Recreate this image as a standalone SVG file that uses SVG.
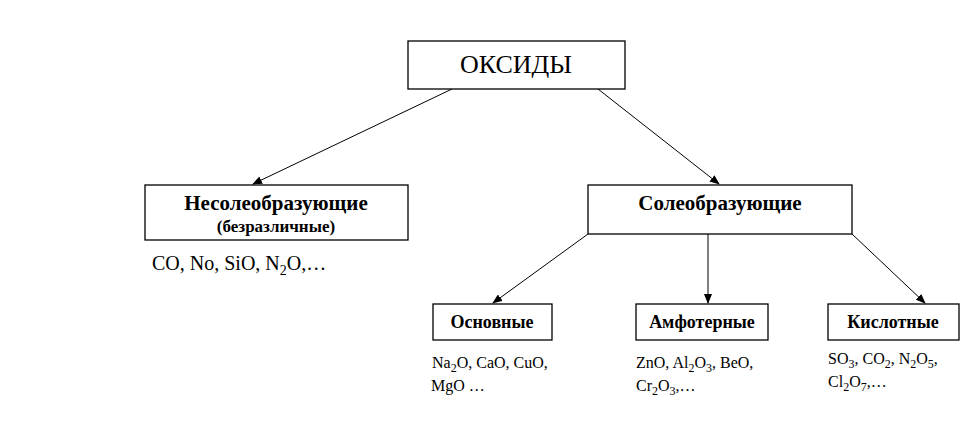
<svg xmlns="http://www.w3.org/2000/svg" width="961" height="426" viewBox="0 0 961 426">
<style>
rect{fill:#fff;stroke:#000;stroke-width:1.3}
.b{font-family:"Liberation Serif",serif;font-weight:bold;text-anchor:middle}
.f{font-family:"Liberation Serif",serif}
line{stroke:#000;stroke-width:1}
</style>
<defs><marker id="a" markerWidth="10" markerHeight="8" refX="9" refY="4" orient="auto" markerUnits="userSpaceOnUse"><path d="M0,0L10,4L0,8z"/></marker></defs>
<rect width="961" height="426" style="stroke:none"/>
<g id="connectors" marker-end="url(#a)">
<line x1="452" y1="89" x2="253" y2="184"/>
<line x1="598" y1="89" x2="719" y2="184"/>
<line x1="588" y1="234" x2="493" y2="303"/>
<line x1="708" y1="234" x2="708" y2="303"/>
<line x1="852" y1="234" x2="925" y2="303"/>
</g>
<g id="oxides"><rect x="408" y="41" width="217" height="48"/><text x="516" y="73" style="font-family:'Liberation Serif',serif;font-size:26px;text-anchor:middle">ОКСИДЫ</text></g>
<g id="nonsalt"><rect x="145" y="185" width="263" height="55"/><text class="b" x="276" y="210" font-size="21">Несолеобразующие</text><text class="b" x="276" y="232" font-size="17">(безразличные)</text>
<text class="f" x="152" y="270" font-size="20">CO, No, SiO, N<tspan dy="5" font-size="14">2</tspan><tspan dy="-5">O,…</tspan></text></g>
<g id="salt"><rect x="588" y="185" width="264" height="49"/><text class="b" x="720" y="210" font-size="21">Солеобразующие</text></g>
<g id="basic"><rect x="433" y="304" width="119" height="36"/><text class="b" x="492" y="328" font-size="18">Основные</text>
<text class="f" x="432" y="368" font-size="16">Na<tspan dy="4" font-size="12">2</tspan><tspan dy="-4">O, CaO, CuO,</tspan></text><text class="f" x="431" y="391" font-size="16">MgO …</text></g>
<g id="amph"><rect x="636" y="304" width="132" height="36"/><text class="b" x="702" y="328" font-size="18">Амфотерные</text>
<text class="f" x="636" y="368" font-size="16">ZnO, Al<tspan dy="4" font-size="12">2</tspan><tspan dy="-4">O</tspan><tspan dy="4" font-size="12">3</tspan><tspan dy="-4">, BeO,</tspan></text><text class="f" x="636" y="391" font-size="16">Cr<tspan dy="4" font-size="12">2</tspan><tspan dy="-4">O</tspan><tspan dy="4" font-size="12">3</tspan><tspan dy="-4">,…</tspan></text></g>
<g id="acid"><rect x="828" y="304" width="131" height="36"/><text class="b" x="893" y="328" font-size="18">Кислотные</text>
<text class="f" x="828" y="364" font-size="16">SO<tspan dy="4" font-size="12">3</tspan><tspan dy="-4">, CO</tspan><tspan dy="4" font-size="12">2</tspan><tspan dy="-4">, N</tspan><tspan dy="4" font-size="12">2</tspan><tspan dy="-4">O</tspan><tspan dy="4" font-size="12">5</tspan><tspan dy="-4">,</tspan></text><text class="f" x="828" y="387" font-size="16">Cl<tspan dy="4" font-size="12">2</tspan><tspan dy="-4">O</tspan><tspan dy="4" font-size="12">7</tspan><tspan dy="-4">,…</tspan></text></g>
</svg>
